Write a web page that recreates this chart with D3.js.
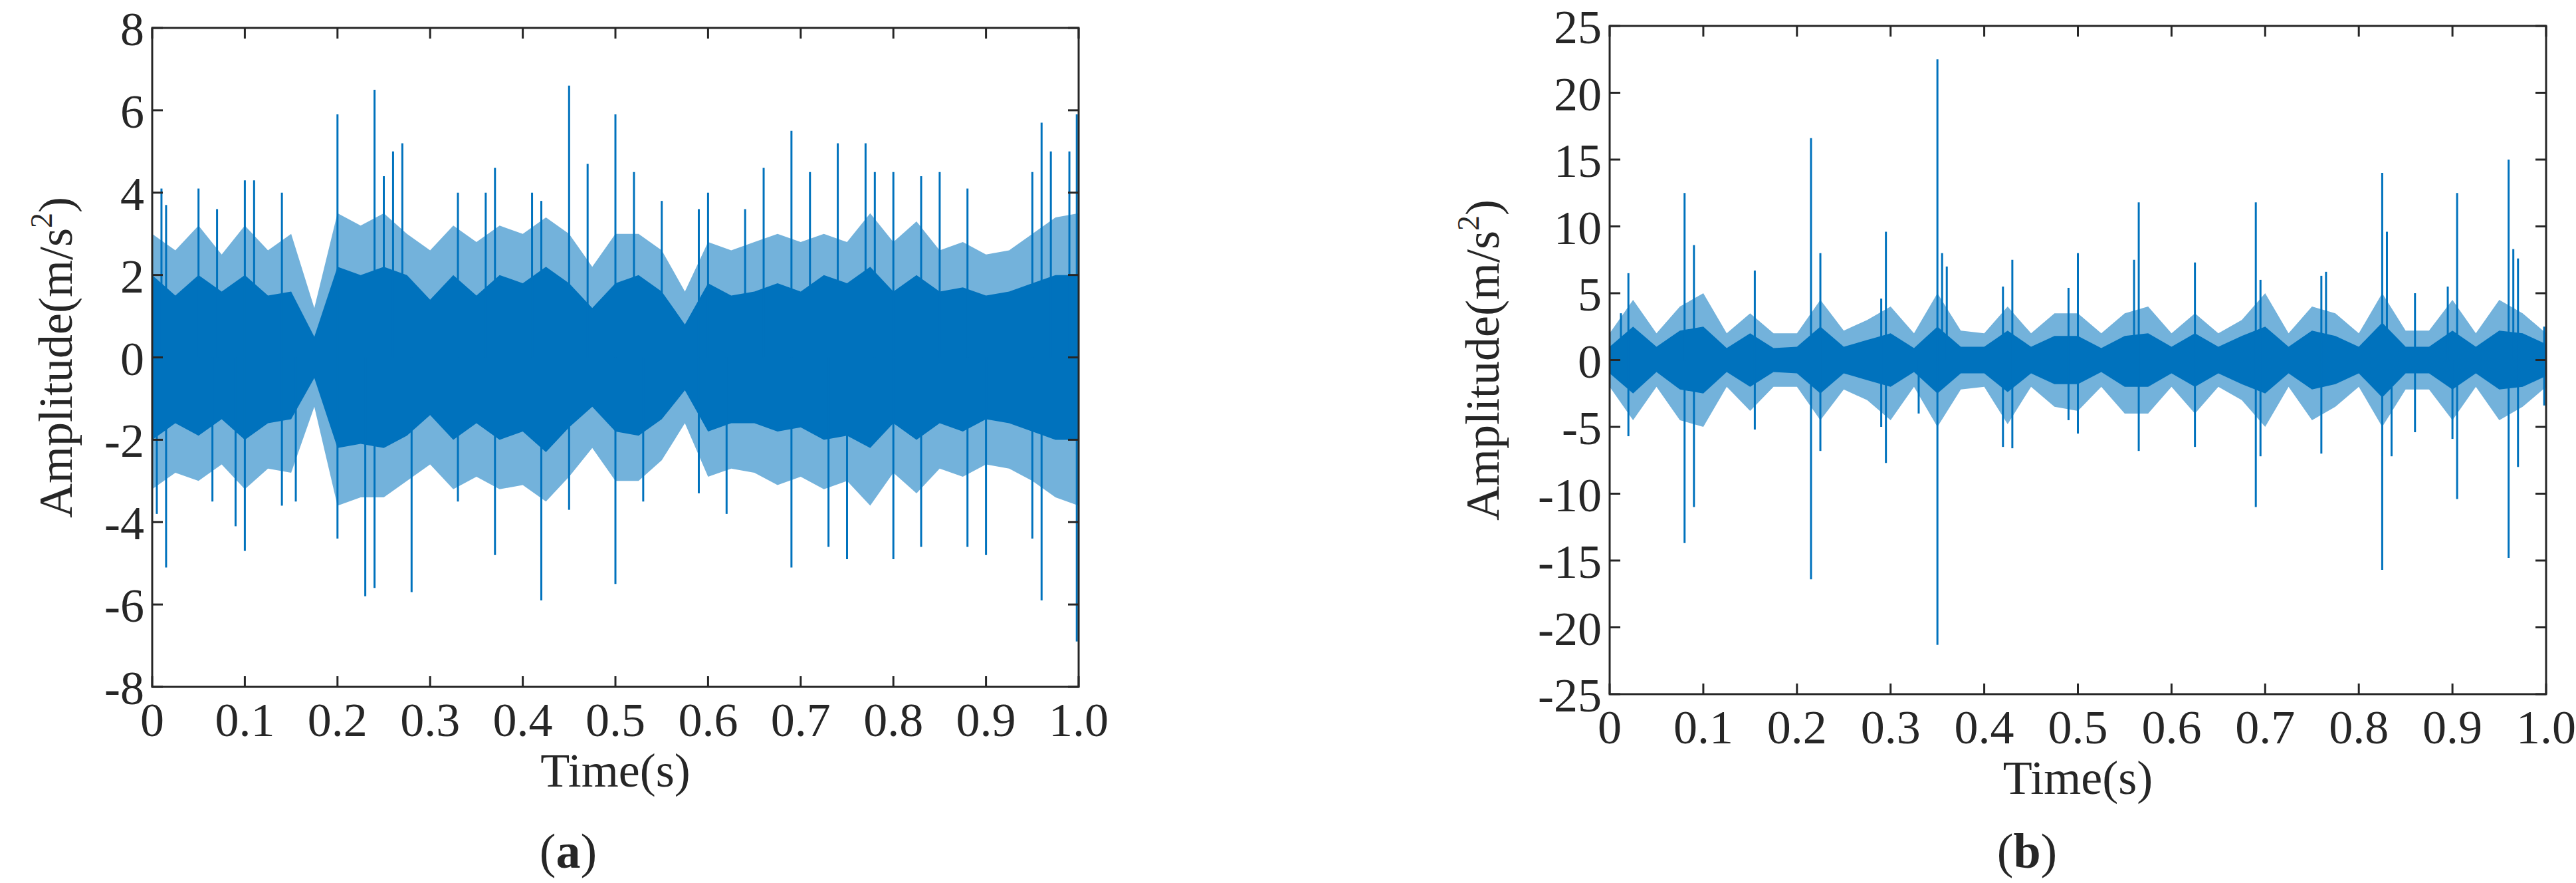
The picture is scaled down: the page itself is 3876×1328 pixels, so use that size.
<!DOCTYPE html>
<html><head><meta charset="utf-8">
<script src="https://cdn.jsdelivr.net/npm/d3@7"></script>
<style>body{margin:0;background:#fff}text{font-family:"Liberation Serif","DejaVu Serif",serif;fill:#262626}</style>
</head><body><div id="chart"></div>
<script>
// envelope bins every 0.025 s
const binTimes = d3.range(41).map(i => i * 0.025);

// panel (a): dense core and lighter outer band
const coreUpperA = [2.0,1.5,2.0,1.6,2.0,1.5,1.6,0.5,2.2,2.0,2.2,2.0,1.4,2.0,1.5,2.0,1.8,2.2,1.8,1.2,1.8,2.0,1.6,0.8,1.8,1.5,1.6,1.8,1.6,2.0,1.8,2.2,1.6,2.0,1.6,1.7,1.5,1.6,1.8,2.0,2.0];
const coreLowerA = [-2.0,-1.6,-1.9,-1.5,-2.0,-1.6,-1.5,-0.5,-2.2,-2.1,-2.2,-1.9,-1.4,-2.0,-1.6,-2.0,-1.8,-2.3,-1.7,-1.2,-1.8,-1.9,-1.5,-0.8,-1.8,-1.6,-1.6,-1.8,-1.7,-2.0,-1.9,-2.2,-1.6,-2.0,-1.6,-1.8,-1.5,-1.6,-1.8,-2.0,-2.0];
const outerUpperA = [3.0,2.6,3.2,2.5,3.2,2.6,3.0,1.2,3.5,3.2,3.5,3.0,2.6,3.2,2.8,3.2,3.0,3.4,3.0,2.2,3.0,3.0,2.6,1.6,2.8,2.6,2.8,3.0,2.8,3.0,2.8,3.5,2.8,3.3,2.6,2.8,2.5,2.6,3.0,3.4,3.5];
const outerLowerA = [-3.2,-2.8,-3.0,-2.6,-3.2,-2.7,-2.8,-1.2,-3.6,-3.4,-3.4,-3.0,-2.6,-3.2,-2.9,-3.2,-3.1,-3.5,-2.9,-2.2,-3.0,-3.0,-2.5,-1.6,-2.9,-2.7,-2.8,-3.1,-2.9,-3.2,-3.0,-3.6,-2.8,-3.3,-2.7,-2.9,-2.6,-2.7,-3.0,-3.4,-3.6];
const spikesA = [[0.01,4.1],[0.015,3.7],[0.05,4.1],[0.07,3.6],[0.1,4.3],[0.11,4.3],[0.14,4.0],[0.2,5.9],[0.24,6.5],[0.25,4.4],[0.26,5.0],[0.27,5.2],[0.33,4.0],[0.36,4.0],[0.37,4.6],[0.41,4.0],[0.42,3.8],[0.45,6.6],[0.47,4.7],[0.5,5.9],[0.52,4.5],[0.55,3.8],[0.59,3.6],[0.6,4.0],[0.64,3.6],[0.66,4.6],[0.69,5.5],[0.71,4.5],[0.74,5.2],[0.77,5.2],[0.78,4.5],[0.8,4.5],[0.83,4.4],[0.85,4.5],[0.88,4.1],[0.95,4.5],[0.96,5.7],[0.97,5.0],[0.99,5.0],[0.998,5.9],
  [0.005,-3.8],[0.015,-5.1],[0.065,-3.5],[0.09,-4.1],[0.1,-4.7],[0.14,-3.6],[0.155,-3.5],[0.2,-4.4],[0.23,-5.8],[0.24,-5.6],[0.28,-5.7],[0.33,-3.5],[0.37,-4.8],[0.42,-5.9],[0.45,-3.7],[0.5,-5.5],[0.53,-3.5],[0.59,-3.3],[0.62,-3.8],[0.69,-5.1],[0.73,-4.6],[0.75,-4.9],[0.8,-4.9],[0.83,-4.6],[0.88,-4.6],[0.9,-4.8],[0.95,-4.4],[0.96,-5.9],[0.998,-6.9]];

// panel (b)
const coreUpperB = [1.0,2.5,1.0,2.2,2.5,0.9,2.0,0.9,1.0,2.5,1.0,1.5,2.0,0.9,2.5,1.0,1.0,2.2,1.0,1.8,1.8,0.9,1.8,2.0,1.0,2.0,1.0,1.8,2.5,1.0,2.2,1.8,1.0,2.8,1.0,1.0,2.2,1.0,2.2,2.0,1.2];
const coreLowerB = [-1.0,-2.5,-0.9,-2.2,-2.5,-0.9,-2.0,-0.9,-1.0,-2.5,-1.0,-1.5,-2.0,-0.9,-2.5,-1.0,-1.0,-2.4,-1.0,-1.8,-1.8,-0.9,-2.0,-2.0,-1.0,-2.0,-1.0,-1.8,-2.5,-1.0,-2.2,-1.8,-1.0,-2.8,-1.0,-1.0,-2.2,-1.0,-2.2,-2.0,-1.2];
const outerUpperB = [2.0,4.5,2.0,4.0,5.0,2.0,3.5,2.0,2.0,4.5,2.2,3.0,4.0,2.0,5.0,2.2,2.0,4.0,2.0,3.5,3.5,2.0,3.5,4.0,2.0,3.5,2.0,3.0,5.0,2.0,4.0,3.5,2.0,5.0,2.2,2.2,4.5,2.0,4.5,3.5,2.0];
const outerLowerB = [-2.0,-4.5,-2.0,-4.5,-5.0,-2.0,-3.8,-2.0,-2.0,-4.5,-2.2,-3.0,-4.5,-2.0,-5.0,-2.2,-2.0,-4.8,-2.0,-3.5,-3.8,-2.0,-4.0,-4.0,-2.0,-4.0,-2.0,-3.0,-5.0,-2.0,-4.5,-3.5,-2.0,-5.0,-2.2,-2.2,-4.5,-2.0,-4.5,-3.5,-2.0];
const spikesB = [[0.012,3.5],[0.02,6.5],[0.08,12.5],[0.09,8.6],[0.155,6.7],[0.215,16.6],[0.225,8.0],[0.29,4.6],[0.295,9.6],[0.35,22.5],[0.355,8.0],[0.36,7.0],[0.42,5.5],[0.43,7.5],[0.49,5.4],[0.5,8.0],[0.56,7.5],[0.565,11.8],[0.625,7.3],[0.69,11.8],[0.695,6.0],[0.76,6.3],[0.765,6.6],[0.825,14.0],[0.83,9.6],[0.86,5.0],[0.895,5.5],[0.905,12.5],[0.96,15.0],[0.965,8.3],[0.97,7.6],[0.998,2.5],
  [0.02,-5.7],[0.08,-13.7],[0.09,-11.0],[0.155,-5.2],[0.215,-16.4],[0.225,-6.8],[0.29,-5.0],[0.295,-7.7],[0.33,-4.0],[0.35,-21.3],[0.42,-6.5],[0.43,-6.6],[0.49,-4.5],[0.5,-5.5],[0.565,-6.8],[0.625,-6.5],[0.69,-11.0],[0.695,-7.2],[0.76,-7.0],[0.825,-15.7],[0.835,-7.2],[0.86,-5.4],[0.9,-5.9],[0.905,-10.4],[0.96,-14.8],[0.97,-8.0],[0.998,-3.4]];

const xTicks = [0,0.1,0.2,0.3,0.4,0.5,0.6,0.7,0.8,0.9,1.0];
const yTicksA = [-8,-6,-4,-2,0,2,4,6,8];
const yTicksB = [-25,-20,-15,-10,-5,0,5,10,15,20,25];

const blue = "#0072BD";
const svg = d3.select("#chart").append("svg").attr("width", 3876).attr("height", 1328);

function panel(o) {
    const x = d3.scaleLinear().domain([0, 1]).range([o.left, o.right]);
    const y = d3.scaleLinear().domain(o.yDomain).range([o.bottom, o.top]);
    const g = svg.append("g");

    const band = (up, lo) => d3.area().x((d, i) => x(binTimes[i])).y0((d, i) => y(lo[i])).y1(d => y(d))(up);
    g.append("path").attr("d", band(o.outerUp, o.outerLo)).attr("fill", blue).attr("opacity", 0.55);
    g.append("path").attr("d", band(o.coreUp, o.coreLo)).attr("fill", blue);
    g.selectAll(".spike").data(o.spikes).join("line")
        .attr("x1", d => x(d[0])).attr("x2", d => x(d[0]))
        .attr("y1", y(0)).attr("y2", d => y(d[1]))
        .attr("stroke", blue).attr("stroke-width", 3);

    // box with inward ticks on every side
    g.append("rect").attr("x", o.left).attr("y", o.top).attr("width", o.right - o.left).attr("height", o.bottom - o.top)
        .attr("fill", "none").attr("stroke", "#262626").attr("stroke-width", 3);
    const tl = 16;
    xTicks.forEach(t => {
        g.append("line").attr("x1", x(t)).attr("x2", x(t)).attr("y1", o.bottom).attr("y2", o.bottom - tl).attr("stroke", "#262626").attr("stroke-width", 3);
        g.append("line").attr("x1", x(t)).attr("x2", x(t)).attr("y1", o.top).attr("y2", o.top + tl).attr("stroke", "#262626").attr("stroke-width", 3);
        g.append("text").attr("x", x(t)).attr("y", o.bottom + 74).attr("text-anchor", "middle").attr("font-size", 72)
            .text(t === 0 ? "0" : t.toFixed(1));
    });
    o.yTicks.forEach(t => {
        g.append("line").attr("x1", o.left).attr("x2", o.left + tl).attr("y1", y(t)).attr("y2", y(t)).attr("stroke", "#262626").attr("stroke-width", 3);
        g.append("line").attr("x1", o.right).attr("x2", o.right - tl).attr("y1", y(t)).attr("y2", y(t)).attr("stroke", "#262626").attr("stroke-width", 3);
        g.append("text").attr("x", o.left - 12).attr("y", y(t) + 26).attr("text-anchor", "end").attr("font-size", 72).text(t);
    });
    g.append("text").attr("x", (o.left + o.right) / 2).attr("y", o.bottom + 150).attr("text-anchor", "middle").attr("font-size", 72).text("Time(s)");
    const yl = g.append("text").attr("transform", `translate(${o.ylabX},${(o.top + o.bottom) / 2}) rotate(-90)`)
        .attr("text-anchor", "middle").attr("font-size", 72).attr("fill", "#444");
    yl.append("tspan").text("Amplitude(m/s");
    yl.append("tspan").attr("dy", -30).attr("font-size", 46).text("2");
    yl.append("tspan").attr("dy", 30).text(")");
    const cap = g.append("text").attr("x", o.capX).attr("y", 1305).attr("text-anchor", "middle").attr("font-size", 74);
    cap.append("tspan").text("(");
    cap.append("tspan").attr("font-weight", "bold").text(o.cap);
    cap.append("tspan").text(")");
}

panel({left: 229, right: 1623, top: 42, bottom: 1033, yDomain: [-8, 8], yTicks: yTicksA, ylabX: 108, capX: 855, cap: "a",
    coreUp: coreUpperA, coreLo: coreLowerA, outerUp: outerUpperA, outerLo: outerLowerA, spikes: spikesA});
panel({left: 2422, right: 3831, top: 39, bottom: 1044, yDomain: [-25, 25], yTicks: yTicksB, ylabX: 2255, capX: 3050, cap: "b",
    coreUp: coreUpperB, coreLo: coreLowerB, outerUp: outerUpperB, outerLo: outerLowerB, spikes: spikesB});
</script></body></html>
